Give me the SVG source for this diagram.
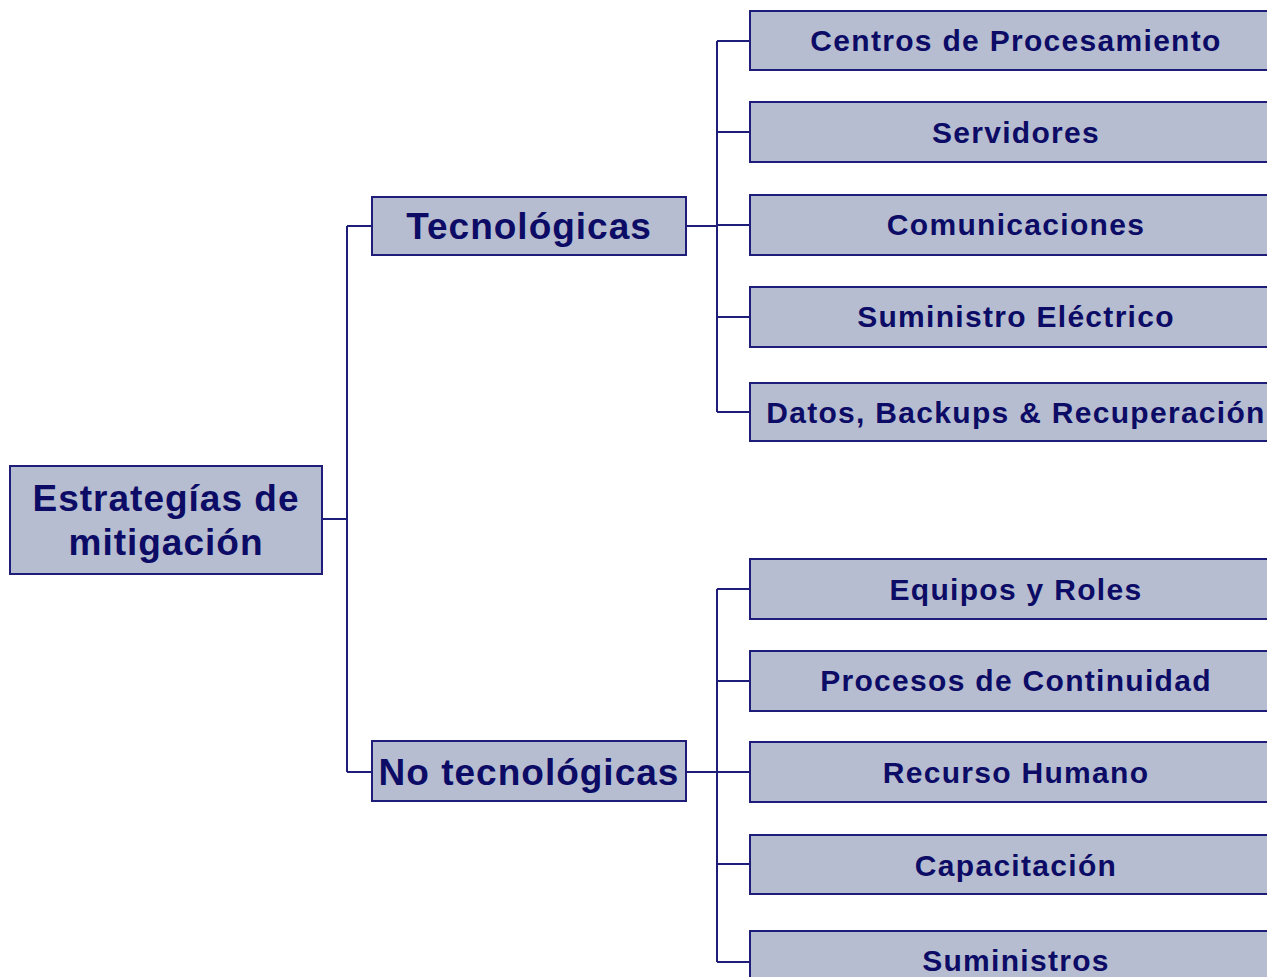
<svg xmlns="http://www.w3.org/2000/svg" width="1267" height="977" viewBox="0 0 1267 977">
<style>
.box{fill:#b7bdd0;stroke:#1e1e7a;stroke-width:2}
.lnk{fill:none;stroke:#1e1e7a;stroke-width:2}
text{font-family:"Liberation Sans",Arial,sans-serif;font-weight:bold;fill:#0c0c66;text-anchor:middle}
.big{font-size:37px;letter-spacing:1px}
.leaf{font-size:30px;letter-spacing:1.3px}
</style>
<rect width="1267" height="977" fill="#ffffff"/>
<g id="connectors">
<path class="lnk" d="M322 519H347M347 226V772M347 226H372M347 772H372"/>
<path class="lnk" d="M686 226H717M717 41V412M717 41H750M717 132H750M717 225H750M717 317H750M717 412H750"/>
<path class="lnk" d="M686 772H717M717 589V962M717 589H750M717 681H750M717 772H750M717 864H750M717 962H750"/>
</g>
<g id="root"><rect class="box" x="10" y="466" width="312" height="108"/><text class="big" x="166" y="511">Estrategías de</text><text class="big" x="166" y="555">mitigación</text></g>
<g id="tec"><rect class="box" x="372" y="197" width="314" height="58"/><text class="big" x="529" y="239">Tecnológicas</text></g>
<g id="notec"><rect class="box" x="372" y="741" width="314" height="60"/><text class="big" x="529" y="785">No tecnológicas</text></g>
<g id="n1"><rect class="box" x="750" y="11" width="532" height="59"/><text class="leaf" x="1016" y="51">Centros de Procesamiento</text></g>
<g id="n2"><rect class="box" x="750" y="102" width="532" height="60"/><text class="leaf" x="1016" y="143">Servidores</text></g>
<g id="n3"><rect class="box" x="750" y="195" width="532" height="60"/><text class="leaf" x="1016" y="235">Comunicaciones</text></g>
<g id="n4"><rect class="box" x="750" y="287" width="532" height="60"/><text class="leaf" x="1016" y="327">Suministro Eléctrico</text></g>
<g id="n5"><rect class="box" x="750" y="383" width="532" height="58"/><text class="leaf" x="1016" y="423">Datos, Backups &amp; Recuperación</text></g>
<g id="n6"><rect class="box" x="750" y="559" width="532" height="60"/><text class="leaf" x="1016" y="600">Equipos y Roles</text></g>
<g id="n7"><rect class="box" x="750" y="651" width="532" height="60"/><text class="leaf" x="1016" y="691">Procesos de Continuidad</text></g>
<g id="n8"><rect class="box" x="750" y="742" width="532" height="60"/><text class="leaf" x="1016" y="783">Recurso Humano</text></g>
<g id="n9"><rect class="box" x="750" y="835" width="532" height="59"/><text class="leaf" x="1016" y="876">Capacitación</text></g>
<g id="n10"><rect class="box" x="750" y="931" width="532" height="60"/><text class="leaf" x="1016" y="971">Suministros</text></g>
</svg>
